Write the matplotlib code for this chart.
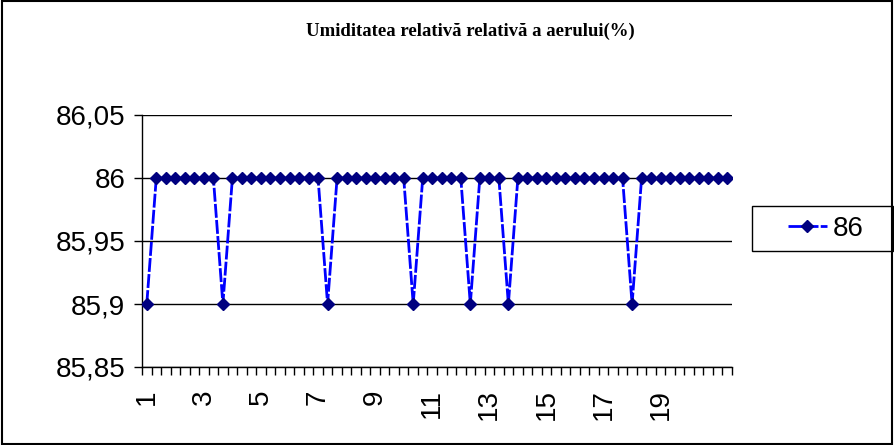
import matplotlib.pyplot as plt
from matplotlib.patches import Rectangle

# -----------------------------
# Data
# -----------------------------
humidity = [85.9, 86, 86, 86, 86, 86, 86, 86, 85.9, 86,
            86, 86, 86, 86, 86, 86, 86, 86, 86, 85.9,
            86, 86, 86, 86, 86, 86, 86, 86, 85.9, 86,
            86, 86, 86, 86, 85.9, 86, 86, 86, 85.9, 86,
            86, 86, 86, 86, 86, 86, 86, 86, 86, 86,
            86, 85.9, 86, 86, 86, 86, 86, 86, 86, 86,
            86, 86]
x_labels = ["1", "3", "5", "7", "9", "11", "13", "15", "17", "19"]
x_label_pos = [0, 6, 12, 18, 24, 30, 36, 42, 48, 54]
y_ticks = [85.85, 85.9, 85.95, 86.0, 86.05]
y_labels = ["85,85", "85,9", "85,95", "86", "86,05"]
series_name = "86"
title = "Umiditatea relativă relativă a aerului(%)"

plt.rcParams['font.family'] = ['Liberation Sans', 'DejaVu Sans']

fig = plt.figure(figsize=(8.94, 4.45), dpi=100)
ax = fig.add_axes([142 / 894, 1 - 367 / 445, 590 / 894, 252 / 445])

x = list(range(len(humidity)))
ax.plot(x, humidity, color='#0000FF', linewidth=2, linestyle=(0, (5, 0.8)),
        marker='D', markersize=6, markerfacecolor='#000080',
        markeredgecolor='#000080', label=series_name, zorder=3)

# -----------------------------
# Axes styling
# -----------------------------
ax.set_ylim(85.85, 86.05)
ax.set_yticks(y_ticks)
ax.set_yticklabels(y_labels, fontsize=20)
ax.yaxis.grid(True, color='black', linewidth=1)
ax.set_axisbelow(True)

ax.set_xlim(-0.5, len(humidity) - 0.5)
ax.set_xticks(x_label_pos)
ax.set_xticklabels(x_labels, fontsize=20, rotation=90)
ax.set_xticks([i - 0.5 for i in range(len(humidity) + 1)], minor=True)
ax.tick_params(axis='x', which='major', length=0, pad=16)
ax.tick_params(axis='x', which='minor', length=6, width=1, color='black')
ax.tick_params(axis='y', length=6, width=1, pad=6)

ax.spines['top'].set_visible(False)
ax.spines['right'].set_visible(False)
for s in ['left', 'bottom']:
    ax.spines[s].set_color('black')
    ax.spines[s].set_linewidth(1)

# -----------------------------
# Title, legend, border
# -----------------------------
fig.text(470 / 894, 1 - 31 / 445, title, ha='center', va='center',
         fontsize=13.5, fontweight='bold', family='Liberation Serif')

# legend box drawn separately so its padding can match the reference
fig.patches.append(Rectangle((752 / 894, 1 - 251 / 445), 141 / 894, 45 / 445,
                             transform=fig.transFigure, fill=True,
                             facecolor='white', edgecolor='black', linewidth=1))
leg = fig.legend(loc='center left', bbox_to_anchor=(788 / 894, 1 - 229 / 445),
                 fontsize=20, frameon=False, handlelength=1.4,
                 borderpad=0, handletextpad=0.2, borderaxespad=0)

fig.patches.append(Rectangle((0.002, 0.002), 0.996, 0.995, transform=fig.transFigure,
                             fill=False, edgecolor='black', linewidth=1.5))

fig.savefig("out.png", dpi=100)
